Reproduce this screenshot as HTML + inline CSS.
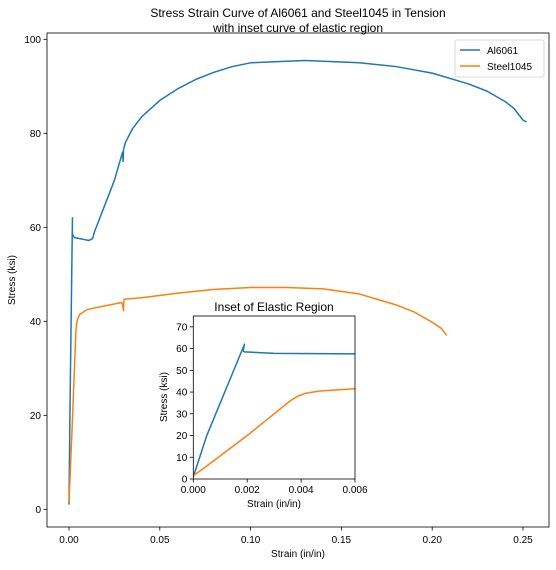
<!DOCTYPE html>
<html><head><meta charset="utf-8"><style>
body{margin:0;background:#fff;}
svg text{font-family:"Liberation Sans","DejaVu Sans",sans-serif;fill:#000;}
</style></head><body>
<svg id="chart" width="556" height="565" viewBox="0 0 556 565" xmlns="http://www.w3.org/2000/svg"></svg>
<script>
const alStrain=[0,0.0005,0.0019,0.00185,0.0019,0.003,0.006,0.011,0.013,0.014,0.02,0.025,0.0295,0.0298,0.030,0.031,0.035,0.04,0.05,0.06,0.07,0.08,0.09,0.10,0.13,0.16,0.18,0.20,0.22,0.23,0.24,0.245,0.25,0.252];
const alStress=[1,20,62,59,58.5,57.8,57.6,57.2,57.6,59,65,70,76,74,76.5,78,81,83.5,87,89.5,91.5,93,94.2,95,95.5,95,94.2,92.8,90.5,89,86.8,85.3,82.8,82.4];
const stStrain=[0,0.0005,0.002,0.003,0.0036,0.0039,0.0042,0.0047,0.006,0.01,0.02,0.029,0.0295,0.030,0.0303,0.04,0.06,0.08,0.10,0.12,0.14,0.16,0.18,0.19,0.20,0.205,0.208];
const stStress=[1.5,6,20,30,36,38.3,39.5,40.5,41.5,42.5,43.3,44,43.5,42.3,44.7,45,46,46.8,47.2,47.2,46.9,45.8,43.5,42,39.8,38.5,37];
const mainXTicks=[0,0.05,0.10,0.15,0.20,0.25];
const mainXLabels=["0.00","0.05","0.10","0.15","0.20","0.25"];
const mainYTicks=[0,20,40,60,80,100];
const insetXTicks=[0,0.002,0.004,0.006];
const insetXLabels=["0.000","0.002","0.004","0.006"];
const insetYTicks=[0,10,20,30,40,50,60,70];

const NS="http://www.w3.org/2000/svg";
const svg=document.getElementById('chart');
function mk(tag,attrs,parent){const e=document.createElementNS(NS,tag);for(const k in attrs)e.setAttribute(k,attrs[k]);(parent||svg).appendChild(e);return e;}
function txt(s,attrs,parent){const e=mk('text',attrs,parent);e.textContent=s;return e;}

const mx=v=>69+v*1816, my=v=>509.3-v*4.7;
const M={l:47,r:549,t:33,b:527};
mk('defs',{}).innerHTML='<clipPath id="cm"><rect x="47" y="33" width="502" height="494"/></clipPath><clipPath id="ci"><rect x="193.3" y="316" width="161.7" height="163"/></clipPath>';
function drawLine(xs,ys,fx,fy,color,clip,name){
  const p=mk('path',{d:xs.map((x,i)=>(i?'L':'M')+fx(x).toFixed(2)+','+fy(ys[i]).toFixed(2)).join(''),fill:'none',stroke:color,'stroke-width':1.5,'stroke-linejoin':'round','clip-path':'url(#'+clip+')'});
  
  
}
drawLine(alStrain,alStress,mx,my,'#1f77b4','cm','al6061-line');
drawLine(stStrain,stStress,mx,my,'#ff7f0e','cm','steel1045-line');
const mf=mk('rect',{x:M.l,y:M.t,width:M.r-M.l,height:M.b-M.t,fill:'none',stroke:'#000','stroke-width':0.8});

mainXTicks.forEach((v,i)=>{const x=mx(v);mk('line',{x1:x,x2:x,y1:M.b,y2:M.b+3.5,stroke:'#000','stroke-width':0.8});
 const t=txt(mainXLabels[i],{x:x,y:M.b+16,'text-anchor':'middle','font-size':10});});
mainYTicks.forEach(v=>{const y=my(v);mk('line',{x1:M.l,x2:M.l-3.5,y1:y,y2:y,stroke:'#000','stroke-width':0.8});
 const t=txt(String(v),{x:M.l-6,y:y+3.5,'text-anchor':'end','font-size':10});});
let t=txt('Strain (in/in)',{x:298,y:557,'text-anchor':'middle','font-size':10});
t=txt('Stress (ksi)',{x:15,y:280,'text-anchor':'middle','font-size':10,transform:'rotate(-90 15 280)'});
t=txt('Stress Strain Curve of Al6061 and Steel1045 in Tension',{x:298,y:17,'text-anchor':'middle','font-size':12});
t=txt('with inset curve of elastic region',{x:298,y:32,'text-anchor':'middle','font-size':12});

const lg=mk('g',{});
mk('rect',{x:455,y:40,width:89,height:37,rx:2,fill:'#fff',stroke:'#ccc','stroke-width':0.8},lg);
mk('line',{x1:460,x2:480,y1:50,y2:50,stroke:'#1f77b4','stroke-width':1.5},lg);
t=txt('Al6061',{x:487,y:54,'font-size':10},lg);
mk('line',{x1:460,x2:480,y1:66,y2:66,stroke:'#ff7f0e','stroke-width':1.5},lg);
t=txt('Steel1045',{x:487,y:70,'font-size':10},lg);

const I={l:193.3,r:355,t:316,b:479};
const ix=v=>I.l+v/0.006*(I.r-I.l), iy=v=>I.b-v/75*(I.b-I.t);
const ib=mk('rect',{x:I.l,y:I.t,width:I.r-I.l,height:I.b-I.t,fill:'#fff'});

drawLine(alStrain,alStress,ix,iy,'#1f77b4','ci','inset-al6061-line');
drawLine(stStrain,stStress,ix,iy,'#ff7f0e','ci','inset-steel1045-line');
const inf=mk('rect',{x:I.l,y:I.t,width:I.r-I.l,height:I.b-I.t,fill:'none',stroke:'#000','stroke-width':0.8});

insetXTicks.forEach((v,i)=>{const x=ix(v);mk('line',{x1:x,x2:x,y1:I.b,y2:I.b+3.5,stroke:'#000','stroke-width':0.8});
 const t=txt(insetXLabels[i],{x:x,y:I.b+14,'text-anchor':'middle','font-size':10});});
insetYTicks.forEach(v=>{const y=iy(v);mk('line',{x1:I.l,x2:I.l-3.5,y1:y,y2:y,stroke:'#000','stroke-width':0.8});
 const t=txt(String(v),{x:I.l-6,y:y+3.5,'text-anchor':'end','font-size':10});});
t=txt('Strain (in/in)',{x:274,y:507,'text-anchor':'middle','font-size':10});
t=txt('Stress (ksi)',{x:167,y:397,'text-anchor':'middle','font-size':10,transform:'rotate(-90 167 397)'});
t=txt('Inset of Elastic Region',{x:274,y:311,'text-anchor':'middle','font-size':12});
</script>
</body></html>
